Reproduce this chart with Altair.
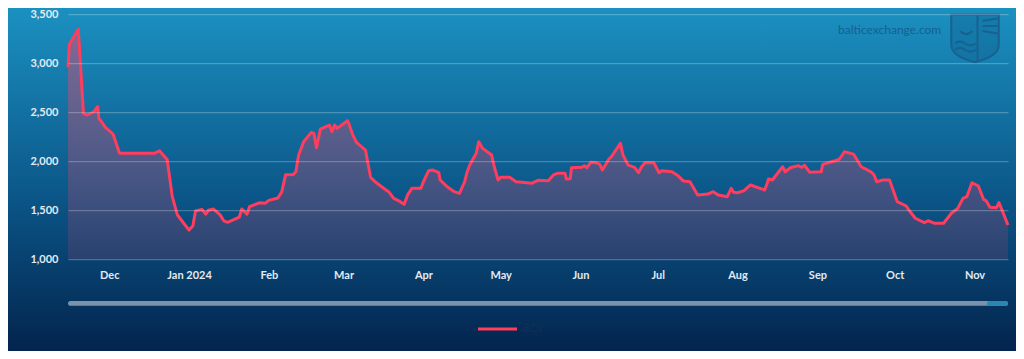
import altair as alt
import pandas as pd

# ---- data ----
dates_nov23 = ["2023-11-15T00:00", "2023-11-15T12:00", "2023-11-19T00:00", "2023-11-19T12:00", "2023-11-21T00:00",
               "2023-11-22T12:00", "2023-11-25T00:00", "2023-11-26T12:00", "2023-11-27T00:00", "2023-11-28T00:00",
               "2023-11-29T12:00"]
bdi_nov23 = [2960, 3190, 3346, 3135, 2490, 2473, 2506, 2557, 2439, 2405, 2347]

dates_dec = ["2023-12-02T12:00", "2023-12-05T00:00", "2023-12-18T12:00", "2023-12-20T12:00", "2023-12-23T12:00",
             "2023-12-25T12:00", "2023-12-27T12:00"]
bdi_dec = [2279, 2083, 2083, 2109, 2020, 1641, 1454]

dates_jan = ["2024-01-01T00:00", "2024-01-02T12:00", "2024-01-03T12:00", "2024-01-06T00:00", "2024-01-07T12:00",
             "2024-01-08T12:00", "2024-01-10T12:00", "2024-01-13T00:00", "2024-01-14T12:00", "2024-01-16T00:00",
             "2024-01-20T12:00", "2024-01-21T12:00", "2024-01-23T12:00", "2024-01-24T12:00", "2024-01-28T12:00",
             "2024-01-30T12:00"]
bdi_jan = [1301, 1345, 1495, 1512, 1463, 1502, 1515, 1458, 1395, 1380, 1432, 1515, 1463, 1539, 1580, 1573]

dates_feb = ["2024-02-01T00:00", "2024-02-04T12:00", "2024-02-06T00:00", "2024-02-07T12:00", "2024-02-10T12:00",
             "2024-02-11T12:00", "2024-02-12T12:00", "2024-02-14T12:00", "2024-02-17T12:00", "2024-02-18T12:00",
             "2024-02-19T12:00", "2024-02-21T00:00", "2024-02-24T12:00", "2024-02-25T12:00", "2024-02-26T12:00",
             "2024-02-27T12:00"]
bdi_feb = [1603, 1627, 1690, 1865, 1867, 1898, 2060, 2201, 2296, 2286, 2140, 2330, 2371, 2303, 2371, 2337]

dates_mar = ["2024-03-02T12:00", "2024-03-03T00:00", "2024-03-04T12:00", "2024-03-06T00:00", "2024-03-09T12:00",
             "2024-03-11T12:00", "2024-03-14T00:00", "2024-03-17T12:00", "2024-03-18T12:00", "2024-03-20T12:00",
             "2024-03-23T00:00", "2024-03-24T12:00", "2024-03-26T00:00", "2024-03-27T12:00", "2024-03-31T00:00"]
bdi_mar = [2415, 2388, 2276, 2195, 2116, 1838, 1777, 1709, 1692, 1624, 1590, 1563, 1665, 1726, 1726]

dates_apr = ["2024-04-01T00:00", "2024-04-03T00:00", "2024-04-04T12:00", "2024-04-07T00:00", "2024-04-07T12:00",
             "2024-04-10T12:00", "2024-04-13T00:00", "2024-04-15T00:00", "2024-04-17T00:00", "2024-04-18T00:00",
             "2024-04-19T00:00", "2024-04-21T12:00", "2024-04-22T12:00", "2024-04-24T00:00", "2024-04-27T12:00",
             "2024-04-28T12:00", "2024-04-30T00:00"]
bdi_apr = [1793, 1905, 1913, 1885, 1811, 1736, 1692, 1675, 1793, 1895, 1963, 2083, 2201, 2133, 2065, 1946, 1811]

dates_may = ["2024-05-01T00:00", "2024-05-04T12:00", "2024-05-07T00:00", "2024-05-09T12:00", "2024-05-13T00:00",
             "2024-05-15T12:00", "2024-05-19T12:00", "2024-05-21T12:00", "2024-05-23T00:00", "2024-05-26T00:00",
             "2024-05-26T12:00", "2024-05-28T00:00", "2024-05-28T12:00"]
bdi_may = [1838, 1838, 1793, 1787, 1777, 1808, 1804, 1862, 1879, 1879, 1821, 1824, 1936]

dates_jun = ["2024-06-01T12:00", "2024-06-02T12:00", "2024-06-03T12:00", "2024-06-05T00:00", "2024-06-07T00:00",
             "2024-06-08T12:00", "2024-06-09T12:00", "2024-06-12T00:00", "2024-06-13T00:00", "2024-06-16T12:00",
             "2024-06-17T12:00", "2024-06-19T12:00", "2024-06-22T00:00", "2024-06-23T12:00", "2024-06-24T12:00",
             "2024-06-26T00:00", "2024-06-29T12:00"]
bdi_jun = [1940, 1957, 1936, 1991, 1987, 1970, 1913, 2022, 2049, 2184, 2065, 1963, 1940, 1885, 1936, 1987, 1987]

dates_jul = ["2024-07-01T12:00", "2024-07-02T12:00", "2024-07-06T12:00", "2024-07-09T00:00", "2024-07-11T00:00",
             "2024-07-13T12:00", "2024-07-16T12:00", "2024-07-20T12:00", "2024-07-22T12:00", "2024-07-24T12:00",
             "2024-07-28T00:00", "2024-07-29T12:00", "2024-07-30T12:00"]
bdi_jul = [1885, 1905, 1895, 1851, 1800, 1793, 1658, 1668, 1692, 1658, 1641, 1726, 1685]

dates_aug = ["2024-08-01T00:00", "2024-08-03T12:00", "2024-08-06T00:00", "2024-08-11T12:00", "2024-08-12T12:00",
             "2024-08-13T00:00", "2024-08-14T12:00", "2024-08-18T12:00", "2024-08-19T12:00", "2024-08-21T12:00",
             "2024-08-24T12:00", "2024-08-26T00:00", "2024-08-27T00:00", "2024-08-29T00:00"]
bdi_aug = [1681, 1702, 1760, 1709, 1777, 1821, 1811, 1946, 1895, 1936, 1957, 1940, 1963, 1889]

dates_sep = ["2024-09-02T12:00", "2024-09-03T00:00", "2024-09-07T12:00", "2024-09-09T12:00", "2024-09-11T12:00",
             "2024-09-15T00:00", "2024-09-18T00:00", "2024-09-20T00:00", "2024-09-22T00:00", "2024-09-23T00:00",
             "2024-09-24T00:00", "2024-09-26T12:00", "2024-09-29T00:00"]
bdi_sep = [1895, 1970, 2004, 2022, 2099, 2075, 1946, 1919, 1890, 1862, 1793, 1811, 1811]

dates_oct = ["2024-10-02T00:00", "2024-10-05T12:00", "2024-10-06T12:00", "2024-10-09T00:00", "2024-10-12T12:00",
             "2024-10-14T00:00", "2024-10-16T12:00", "2024-10-20T00:00", "2024-10-23T00:00", "2024-10-25T12:00",
             "2024-10-27T12:00", "2024-10-29T00:00", "2024-10-31T00:00"]
bdi_oct = [1590, 1546, 1505, 1421, 1376, 1396, 1370, 1370, 1472, 1522, 1624, 1641, 1783]

dates_nov24 = ["2024-11-02T12:00", "2024-11-04T12:00", "2024-11-05T12:00", "2024-11-07T00:00", "2024-11-09T12:00",
               "2024-11-10T12:00", "2024-11-14T00:00"]
bdi_nov24 = [1750, 1614, 1600, 1533, 1529, 1580, 1352]

y_ticks = [1000, 1500, 2000, 2500, 3000, 3500]
series_name = "BDI"
watermark = "balticexchange.com"

dates = (dates_nov23 + dates_dec + dates_jan + dates_feb + dates_mar + dates_apr + dates_may +
         dates_jun + dates_jul + dates_aug + dates_sep + dates_oct + dates_nov24)
values = (bdi_nov23 + bdi_dec + bdi_jan + bdi_feb + bdi_mar + bdi_apr + bdi_may +
          bdi_jun + bdi_jul + bdi_aug + bdi_sep + bdi_oct + bdi_nov24)

df = pd.DataFrame({"date": dates, "BDI": values})
one = pd.DataFrame({"k": [0]})

W, H = 940, 245.4
LINE = "#ff3d5e"
LABEL = "#e2eaf2"

x_scale = alt.Scale(domain=[alt.DateTime(year=2023, month=11, date=15),
                            alt.DateTime(year=2024, month=11, date=14)])
y_scale = alt.Scale(domain=[1000, 3500], nice=False, zero=False)

x_axis = alt.Axis(
    tickCount={"interval": "month", "step": 1},
    labelExpr="month(datum.value) == 0 ? timeFormat(datum.value, '%b %Y') : timeFormat(datum.value, '%b')",
    grid=False, domain=False, ticks=False, tickSize=0, labelPadding=10,
    labelColor=LABEL, labelFont="Lato", labelFontSize=11, labelFontWeight="bold",
    labelOverlap=False, labelFlush=False, zindex=1, title=None,
)
y_axis = alt.Axis(
    values=y_ticks, format=",.0f", grid=True, gridColor="#ffffff", gridOpacity=0.3, gridWidth=1,
    domain=False, ticks=False, tickSize=0, labelPadding=10,
    labelColor=LABEL, labelFont="Lato", labelFontSize=11, labelFontWeight="bold",
    zindex=1, title=None,
)

# full-page gradient background
bg = alt.Chart(one).mark_rect(
    color=alt.Gradient(gradient="linear", x1=0, x2=0, y1=0, y2=1, stops=[
        alt.GradientStop(color="#1b91c1", offset=0),
        alt.GradientStop(color="#0b5688", offset=0.55),
        alt.GradientStop(color="#03244d", offset=1),
    ])
).encode(x=alt.value(-60), x2=alt.value(W + 8), y=alt.value(-6.2), y2=alt.value(H + 91.4))

area = alt.Chart(df).mark_area(
    color=alt.Gradient(gradient="linear", x1=0, x2=0, y1=0, y2=1, stops=[
        alt.GradientStop(color="rgba(255,64,100,0.45)", offset=0),
        alt.GradientStop(color="rgba(255,64,100,0.13)", offset=1),
    ])
).encode(
    x=alt.X("date:T", scale=x_scale, axis=x_axis, title=None),
    y=alt.Y("BDI:Q", scale=y_scale, axis=y_axis, title=None),
    y2=alt.datum(1000),
)

line = alt.Chart(df).mark_line(color=LINE, strokeWidth=3, strokeJoin="round").encode(
    x=alt.X("date:T", scale=x_scale),
    y=alt.Y("BDI:Q", scale=y_scale),
)

# navigator scrollbar
scroll = alt.Chart(one).mark_rect(color="#7b93a8", cornerRadius=2.5).encode(
    x=alt.value(0), x2=alt.value(W), y=alt.value(286.8), y2=alt.value(291.6))
scroll_end = alt.Chart(one).mark_rect(color="#2a86b3", cornerRadius=2.5).encode(
    x=alt.value(W - 21), x2=alt.value(W), y=alt.value(286.8), y2=alt.value(291.6))

# legend
leg_line = alt.Chart(one).mark_rule(color=LINE, strokeWidth=3).encode(
    x=alt.value(410), x2=alt.value(449), y=alt.value(314.8))
leg_text = alt.Chart(one).mark_text(
    text=series_name, align="left", baseline="middle", color="#0f3158",
    font="Lato", fontSize=11.5).encode(x=alt.value(455), y=alt.value(315))

# watermark
wm_text = alt.Chart(one).mark_text(
    text=watermark, align="left", baseline="middle", color="#15618f",
    font="Lato", fontSize=12).encode(x=alt.value(770), y=alt.value(16))
shield_path = "M-0.95,-0.95 L0.95,-0.95 L0.95,0.25 C0.95,0.65 0.4,0.85 0,0.95 C-0.4,0.85 -0.95,0.65 -0.95,0.25 Z"
detail_path = ("M0.1,-0.95 L0.1,0.9 M-0.8,0.2 Q-0.6,0.05 -0.4,0.2 Q-0.2,0.35 0.05,0.2 "
               "M-0.8,0.45 Q-0.6,0.3 -0.4,0.45 Q-0.2,0.6 0.05,0.45 M-0.6,-0.3 Q-0.35,-0.05 -0.1,-0.3 "
               "M0.3,-0.7 L0.9,-0.8 M0.3,-0.5 L0.9,-0.5 M0.3,-0.3 L0.9,-0.2")
shield = alt.Chart(one).mark_point(
    shape=shield_path, size=2500, filled=True, fill="#0e5c8c", fillOpacity=0.35,
    stroke="#17628f", strokeWidth=2, opacity=1).encode(x=alt.value(907), y=alt.value(24.3))
shield_detail = alt.Chart(one).mark_point(
    shape=detail_path, size=2500, filled=False, stroke="#17628f", strokeWidth=2,
    opacity=1).encode(x=alt.value(907), y=alt.value(24.3))

chart = alt.layer(
    bg, area, line, scroll, scroll_end, leg_line, leg_text, wm_text, shield, shield_detail
).properties(
    width=W, height=H,
    autosize=alt.AutoSizeParams(type="none"),
    padding={"left": 60, "top": 6.2, "right": 8, "bottom": 91.4},
    background="#03244d",
).configure_view(stroke=None)

chart.save("out.html", embed_options={"renderer": "svg", "actions": False})
